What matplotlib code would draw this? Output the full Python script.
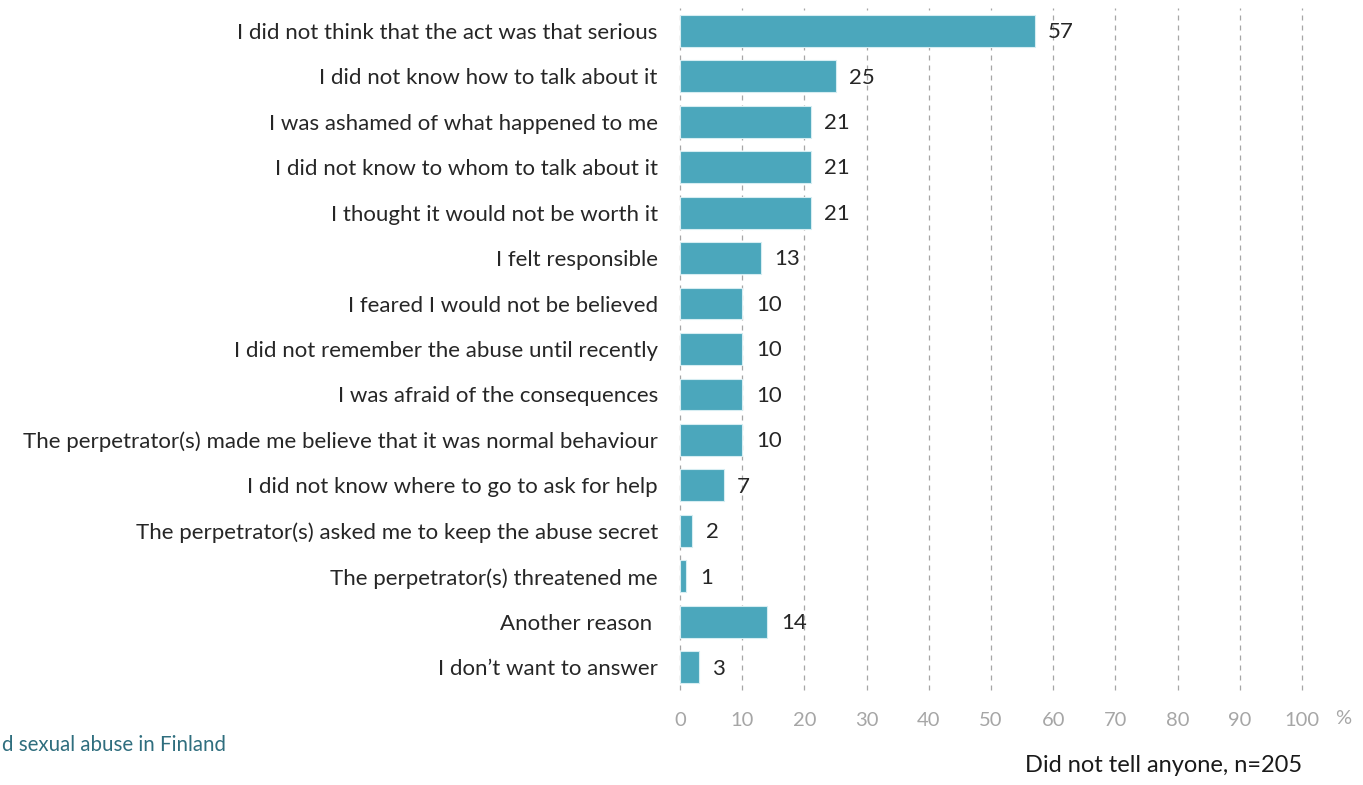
import matplotlib.pyplot as plt

plt.rcParams['font.family'] = ['Lato', 'DejaVu Sans']

reasons = [
    'I did not think that the act was that serious',
    'I did not know how to talk about it',
    'I was ashamed of what happened to me',
    'I did not know to whom to talk about it',
    'I thought it would not be worth it',
    'I felt responsible',
    'I feared I would not be believed',
    'I did not remember the abuse until recently',
    'I was afraid of the consequences',
    'The perpetrator(s) made me believe that it was normal behaviour',
    'I did not know where to go to ask for help',
    'The perpetrator(s) asked me to keep the abuse secret',
    'The perpetrator(s) threatened me',
    'Another reason ',
    'I don\u2019t want to answer',
]
percent = [57, 25, 21, 21, 21, 13, 10, 10, 10, 10, 7, 2, 1, 14, 3]
ticks = [0, 10, 20, 30, 40, 50, 60, 70, 80, 90, 100]

W, H = 1363, 785
fig = plt.figure(figsize=(W / 100, H / 100), dpi=100)
ax = fig.add_axes([680 / W, 1 - 690 / H, 622 / W, 682 / H])

ypos = list(range(len(reasons)))
ax.barh(ypos, percent, height=0.70, color='#4BA7BC', edgecolor='#D6EDF2',
        linewidth=0.8, zorder=3)
for y, v in zip(ypos, percent):
    ax.text(v + 2.2, y + 0.03, str(v), va='center', ha='left', fontsize=16,
            color='#262626', zorder=4)

ax.set_xlim(0, 100)
ax.set_ylim(len(reasons) - 0.5, -0.5)
ax.set_yticks(ypos)
ax.set_yticklabels(reasons, fontsize=16, color='#262626')
ax.set_xticks(ticks)
ax.set_xticklabels([str(t) for t in ticks], fontsize=14.5, color='#A6A6A6')
ax.tick_params(axis='both', length=0)
ax.tick_params(axis='y', pad=16)
ax.tick_params(axis='x', pad=16)
for t in ticks:
    ax.axvline(t, color='#A6A6A6', linestyle=(0, (4, 4)), linewidth=0.9,
               zorder=1, clip_on=False)
for s in ax.spines.values():
    s.set_visible(False)

fig.text(1343 / W, 1 - 719 / H, '%', fontsize=14.5, color='#A6A6A6',
         ha='center', va='center')
fig.text(226 / W, 1 - 745 / H, 'd sexual abuse in Finland', fontsize=14.8,
         color='#2F6E7E', ha='right', va='center')
fig.text(1302 / W, 1 - 766 / H, 'Did not tell anyone, n=205', fontsize=17,
         color='#1A1A1A', ha='right', va='center')

fig.savefig('out.png', dpi=100)
